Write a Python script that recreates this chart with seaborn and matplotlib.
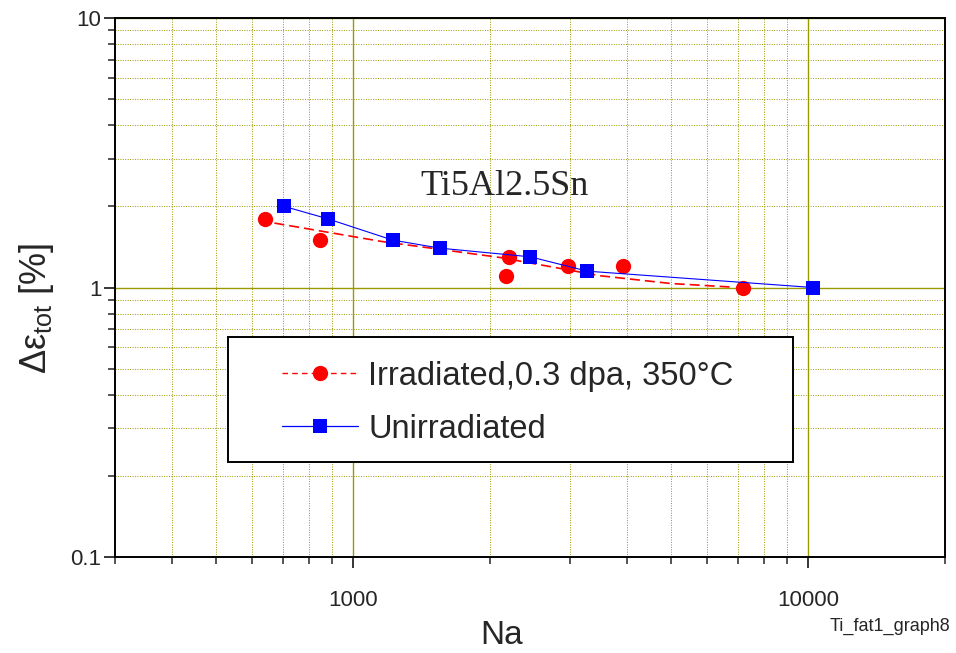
import matplotlib
matplotlib.use("Agg")
import matplotlib.pyplot as plt
from matplotlib.lines import Line2D
from matplotlib.patches import Rectangle
from matplotlib.ticker import FixedLocator, FixedFormatter, LogLocator, NullFormatter
import numpy as np
import pandas as pd
import seaborn as sns

# Fatigue data for Ti5Al2.5Sn: cycles to failure vs total strain range
irr_na = [641, 845, 2170, 2195, 2970, 3910, 7190]
irr_strain = [1.80, 1.50, 1.10, 1.30, 1.20, 1.20, 1.00]

unirr_na = [705, 878, 1220, 1550, 2450, 3270, 10250]
unirr_strain = [2.00, 1.80, 1.50, 1.40, 1.30, 1.15, 1.00]

# Trend curve through the irradiated results
trend_na = [671, 1155, 2106, 3500, 4990, 6775]
trend_strain = [1.734, 1.482, 1.292, 1.105, 1.035, 1.004]

irr_label = "Irradiated,0.3 dpa, 350°C"
unirr_label = "Unirradiated"
x_ticks = [1000, 10000]
x_ticklabels = ["1000", "10000"]
y_ticks = [0.1, 1, 10]
y_ticklabels = ["0.1", "1", "10"]

sns.set_style("white")
plt.rcParams["font.family"] = ["Liberation Sans", "DejaVu Sans"]
plt.rcParams["mathtext.fontset"] = "custom"
plt.rcParams["mathtext.rm"] = "Liberation Sans"
plt.rcParams["mathtext.it"] = "Liberation Sans:italic"

RED = "#ff0000"
BLUE = "#0000ff"
GRID = "#999900"

fig = plt.figure(figsize=(9.56, 6.53), dpi=100)
ax = fig.add_axes([0.1207, 0.1470, 0.8678, 0.8254])
ax.set_xscale("log")
ax.set_yscale("log")
ax.set_xlim(300, 20000)
ax.set_ylim(0.1, 10)

irr_df = pd.DataFrame({"Na": irr_na, "strain": irr_strain})
unirr_df = pd.DataFrame({"Na": unirr_na, "strain": unirr_strain})
trend_df = pd.DataFrame({"Na": trend_na, "strain": trend_strain})

sns.lineplot(data=trend_df, x="Na", y="strain", ax=ax, color=RED,
             linewidth=1.2, linestyle=(0, (6, 3)), estimator=None,
             sort=False, zorder=3, legend=False)
sns.scatterplot(data=irr_df, x="Na", y="strain", ax=ax, color=RED,
                marker="o", s=11.0 ** 2, linewidth=0, zorder=4, legend=False)
sns.lineplot(data=unirr_df, x="Na", y="strain", ax=ax, color=BLUE,
             linewidth=0.8, marker="s", markersize=9.4, markeredgewidth=0,
             estimator=None, sort=False, zorder=5, legend=False)

# grid: solid at decades, dotted at intermediate values
ax.xaxis.set_major_locator(FixedLocator(x_ticks))
ax.xaxis.set_major_formatter(FixedFormatter(x_ticklabels))
ax.yaxis.set_major_locator(FixedLocator(y_ticks))
ax.yaxis.set_major_formatter(FixedFormatter(y_ticklabels))
ax.xaxis.set_minor_locator(LogLocator(base=10, subs=np.arange(2, 10), numticks=20))
ax.yaxis.set_minor_locator(LogLocator(base=10, subs=np.arange(2, 10), numticks=20))
ax.xaxis.set_minor_formatter(NullFormatter())
ax.yaxis.set_minor_formatter(NullFormatter())
ax.grid(True, which="major", color=GRID, linewidth=1.0, linestyle="-", zorder=0)
ax.grid(True, which="minor", color=GRID, linewidth=0.7, linestyle=(0, (1, 1.5)), zorder=0)
ax.set_axisbelow(True)

ax.tick_params(axis="both", which="major", direction="out", length=8, width=1.3,
               labelsize=16, bottom=True, left=True, top=False, right=False)
ax.tick_params(axis="both", which="minor", direction="out", length=5, width=1.1,
               bottom=True, left=True, top=False, right=False)
ax.tick_params(axis="x", which="major", pad=16)
ax.tick_params(axis="y", which="major", pad=2)
for spine in ax.spines.values():
    spine.set_linewidth(1.4)
    spine.set_color("black")

ax.set_xlabel("Na", fontsize=24)
ax.xaxis.set_label_coords(0.466, -0.116)
ax.set_ylabel(r"Δε$_{\mathrm{tot}}$ [%]", fontsize=26)
ax.yaxis.set_label_coords(-0.071, 0.462)

ax.text(2149, 2.38, "Ti5Al2.5Sn", fontsize=26, family="Liberation Serif",
        ha="center", va="center", zorder=6)

# legend box with its entries
ax.add_patch(Rectangle((0.1357, 0.176), 0.6811, 0.232, transform=ax.transAxes,
                       facecolor="white", edgecolor="black", linewidth=1.4,
                       zorder=7))
handles = [
    Line2D([], [], color=RED, linewidth=1.0, linestyle=(0, (4, 3)),
           marker="o", markersize=11, markeredgewidth=0),
    Line2D([], [], color=BLUE, linewidth=0.9, marker="s", markersize=9.4,
           markeredgewidth=0),
]
leg = ax.legend(handles, [irr_label, unirr_label], loc="upper left",
                bbox_to_anchor=(0.2008, 0.3644), frameon=False, fontsize=23.5,
                borderpad=0, borderaxespad=0, handlelength=2.33,
                handletextpad=0.31, labelspacing=0.68)
leg.set_zorder(8)

fig.text(0.9937, 0.040, "Ti_fat1_graph8", fontsize=13, ha="right", va="center")

fig.savefig("out.png", dpi=100)
